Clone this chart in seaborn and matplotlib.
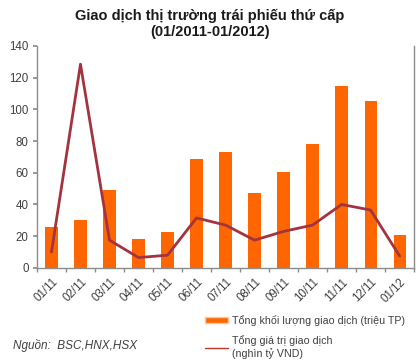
import matplotlib
matplotlib.use("Agg")
import matplotlib.pyplot as plt
import seaborn as sns
import numpy as np
import pandas as pd
from matplotlib.patches import Patch
from matplotlib.lines import Line2D

months = ["01/11", "02/11", "03/11", "04/11", "05/11", "06/11", "07/11",
          "08/11", "09/11", "10/11", "11/11", "12/11", "01/12"]
volume = [26, 30, 49, 18, 22.5, 69, 73, 47.5, 60.5, 78, 115, 105, 21]
value = [10, 128.5, 17.5, 6.5, 8, 31.5, 27, 17.5, 23, 27, 40, 36.5, 7.5]
yticks = [0, 20, 40, 60, 80, 100, 120, 140]

title = "Giao dịch thị trường trái phiếu thứ cấp\n(01/2011-01/2012)"
label_vol = "Tổng khối lượng giao dịch (triệu TP)"
label_val = "Tổng giá trị giao dịch\n(nghìn tỷ VND)"
source = "Nguồn:  BSC,HNX,HSX"

sns.set_theme(style="white")
plt.rcParams['font.family'] = ['Liberation Sans', 'DejaVu Sans']

bar_color = "#FF6600"
line_color = "#A3343F"
gray = "#404040"
spine_gray = "#8C8C8C"

df = pd.DataFrame({"month": months, "volume": volume, "value": value})

fig = plt.figure(figsize=(4.2, 3.62), dpi=100)
ax = fig.add_axes([0.088, 0.26, 0.898, 0.613])

sns.barplot(data=df, x="month", y="volume", color=bar_color, width=0.42,
            saturation=1, linewidth=0, edgecolor="none", errorbar=None, ax=ax)
sns.lineplot(x=np.arange(len(months)), y=value, color=line_color,
             linewidth=2.0, ax=ax)

ax.set_xlim(-0.5, len(months) - 0.5)
ax.set_ylim(0, 140)
ax.set_yticks(yticks)
ax.set_yticklabels([str(t) for t in yticks], fontsize=8.3, color=gray)
ax.set_xticks(np.arange(len(months)))
ax.set_xticklabels(months, rotation=45, ha="right", rotation_mode="anchor",
                   fontsize=8.3, color=gray)
ax.set_xticks(np.arange(-0.5, len(months)), minor=True)
ax.tick_params(axis="x", which="major", length=0, pad=6, bottom=False)
ax.tick_params(axis="x", which="minor", length=3, color=spine_gray,
               direction="out", bottom=True)
ax.tick_params(axis="y", length=3, color=spine_gray, direction="out", left=True, pad=3)
ax.set_xlabel("")
ax.set_ylabel("")

for s in ["left", "bottom", "right"]:
    ax.spines[s].set_visible(True)
    ax.spines[s].set_color(spine_gray)
    ax.spines[s].set_linewidth(1.0)
ax.spines["top"].set_visible(False)

fig.suptitle(title, fontsize=10.5, fontweight="bold", color="#1a1a1a",
             y=0.975, linespacing=1.2)

handles = [Patch(facecolor=bar_color, edgecolor="#F8C8A0", linewidth=1.0),
           Line2D([0], [0], color="#C0392B", linewidth=1.0)]
leg = fig.legend(handles, [label_vol, label_val], loc="upper left",
                 bbox_to_anchor=(0.488, 0.13), frameon=False, fontsize=7.7,
                 handlelength=2.2, handleheight=0.45, handletextpad=0.35,
                 labelspacing=0.9, borderaxespad=0, borderpad=0)
for t in leg.get_texts():
    t.set_color(gray)

fig.text(0.03, 0.045, source, fontsize=8.5, style="italic", color=gray,
         va="center", ha="left")

fig.savefig("out.png", dpi=100)
